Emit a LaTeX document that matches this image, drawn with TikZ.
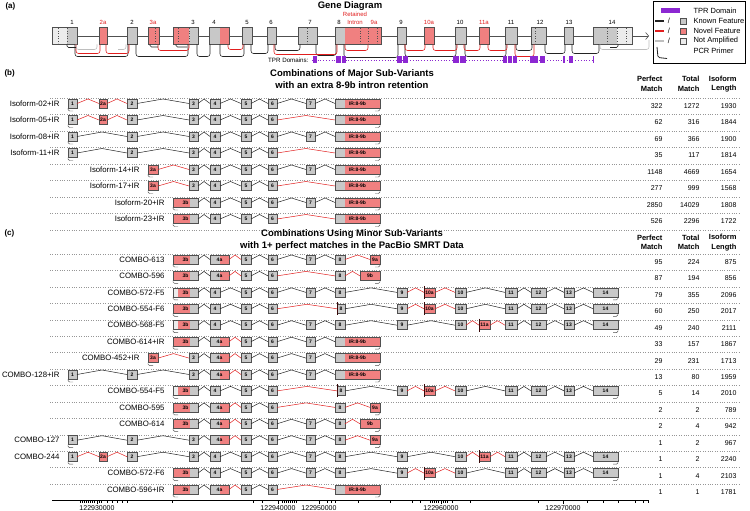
\documentclass[tikz,border=0pt]{standalone}
\usepackage{fontspec}
\setmainfont{Liberation Sans}
\usetikzlibrary{positioning,arrows.meta,calc}
\definecolor{kng}{RGB}{200,200,200}
\definecolor{nvr}{RGB}{240,128,128}
\definecolor{nag}{RGB}{236,236,236}
\definecolor{nal}{RGB}{190,190,190}
\definecolor{edg}{RGB}{80,80,80}
\definecolor{jred}{RGB}{225,30,30}
\definecolor{jblk}{RGB}{35,35,35}
\definecolor{tpr}{RGB}{140,40,210}
\definecolor{sepc}{RGB}{150,150,150}
\newcommand{\fsz}[1]{\fontsize{#1}{#1}\selectfont}

% one isoform row: id, y, label, label right edge, exons x1/x2/style/text/junction colour
\newcommand{\isorow}[5]{%
  \node[rlbl] (#1-lbl) at (#4,#2) {#3};
  \foreach \xa/\xb/\st/\tx/\jc [count=\i, remember=\i as \j (initially 0)] in {#5} {
    \node[\st,minimum width={(\xb-\xa)*1pt}] (#1-\i) at (\xa,#2) {\tx};
    \ifnum\i>1
      \draw[jn,draw=\jc] (#1-\j.east) -- ([yshift=4.5pt]$(#1-\j.east)!.5!(#1-\i.west)$) -- (#1-\i.west);
    \fi
    \xdef\lastex{\i}
  }
  \draw[hk] (#1-1.south west) -- ++(0,3) -- ++(5,0);
  \draw[hk] (#1-\lastex.south east) -- ++(0,3) -- ++(-5,0);
}
% perfect / total / length of one row
\newcommand{\rownums}[5]{%
  \node[rnum] (#1-p) at (666,{#2+2.5}) {#3};
  \node[rnum] (#1-t) at (703,{#2+2.5}) {#4};
  \node[rnum] (#1-l) at (740,{#2+2.5}) {#5};
}

\begin{document}
\begin{tikzpicture}[x=1pt,y=-1pt,font=\fsz{7.5},
  kn/.style={draw=edg,fill=kng,line width=.45pt,inner sep=0pt,outer sep=0pt,minimum height=9pt,anchor=west,font=\fsz{5}\bfseries},
  nv/.style={kn,fill=nvr},
  lpart/.style 2 args={path picture={\fill[#1] (path picture bounding box.south west) rectangle ([xshift=#2]path picture bounding box.north west);}},
  rpart/.style 2 args={path picture={\fill[#1] ([xshift=-#2]path picture bounding box.south east) rectangle (path picture bounding box.north east);}},
  tb/.style={kn,lpart={nvr}{17pt}},
  tbl/.style={kn,path picture={\fill[nvr] (path picture bounding box.south west) rectangle ([xshift=17pt]path picture bounding box.north west);
    \fill[nag] (path picture bounding box.south west) rectangle ([xshift=5pt]path picture bounding box.north west);}},
  fa/.style={kn,rpart={nvr}{9pt}},
  ir/.style={kn,fill=nvr,lpart={kng}{10pt}},
  mk/.style={draw=black!75!jred,line width=1pt},
  nvm/.style={nv,append after command={([yshift=2pt]\tikzlastnode.north west) edge[mk] ([yshift=-2pt]\tikzlastnode.south west)}},
  knm/.style={kn,append after command={([yshift=2pt]\tikzlastnode.north west) edge[mk] ([yshift=-2pt]\tikzlastnode.south west)}},
  jn/.style={line width=.5pt},
  hk/.style={draw=edg,line width=.45pt,rounded corners=1.5pt},
  rlbl/.style={anchor=east,font=\fsz{7.8}},
  rnum/.style={anchor=east,font=\fsz{7}},
  hdr/.style={anchor=east,align=right,font=\fontsize{7.5}{9.5}\selectfont\bfseries},
  sepl/.style={sepc,dotted,line width=.4pt},
  ttl/.style={align=center,font=\fontsize{9.5}{12}\selectfont\bfseries},
  pnl/.style={anchor=west,font=\fsz{8}\bfseries},
  gk/.style={draw=edg,fill=kng,line width=.6pt,inner sep=0pt,outer sep=0pt,minimum height=17pt,anchor=west},
  gn/.style={gk,fill=nvr},
  gdot/.style={edg,dotted,line width=.5pt},
  glb/.style={font=\fsz{6},inner sep=1pt},
  sa/.style={line width=.55pt,rounded corners=2.5pt},
  spl/.style={to path={-- ++(0,#1) -| (\tikztotarget)}},
  tprb/.style={fill=tpr,inner sep=0pt,outer sep=0pt,minimum height=7pt,anchor=west},
  lgtx/.style={anchor=west,font=\fsz{7.5}},
  axl/.style={line width=.5pt,black}]
\useasboundingbox (0,0) rectangle (750,511);
\fill[white] (0,0) rectangle (750,511);

% ---- (a) gene diagram
\node[pnl] (pa) at (2,6) {(a)};
\node[ttl] (tita) at (350,6) {Gene Diagram};
\coordinate (gs) at (52,36);
\coordinate (tip) at (649,36);
\draw[line width=.6pt,edg,-{Straight Barb[length=3pt,width=7pt]}] (gs) -- (tip);
\node[gk,minimum width=25pt,lpart={nag}{15pt}] (g1) at (52,36) {};
\node[gn,minimum width=8pt] (g2a) at (99,36) {};
\node[gk,minimum width=10pt] (g2) at (127,36) {};
\node[gn,minimum width=11pt] (g3a) at (148,36) {};
\node[gk,minimum width=25pt,lpart={nvr}{16pt}] (g3) at (173,36) {};
\node[gk,minimum width=20pt,rpart={nvr}{9pt}] (g4) at (209,36) {};
\node[gk,minimum width=10pt] (g5) at (242,36) {};
\node[gk,minimum width=9pt] (g6) at (267,36) {};
\node[gk,minimum width=19pt] (g7) at (298,36) {};
\node[gn,minimum width=46pt,lpart={kng}{10pt}] (g8) at (335,36) {};
\node[gk,minimum width=9pt] (g9) at (397,36) {};
\node[gn,minimum width=10pt] (g10a) at (424,36) {};
\node[gk,minimum width=11pt] (g10) at (455,36) {};
\node[gn,minimum width=10pt] (g11a) at (479,36) {};
\node[gk,minimum width=12pt] (g11) at (505,36) {};
\node[gk,minimum width=15pt] (g12) at (531,36) {};
\node[gk,minimum width=9pt] (g13) at (564,36) {};
\node[gk,minimum width=39pt,rpart={nag}{15pt}] (g14) at (593,36) {};
\foreach \x in {58,67,155,178,189,307,360,368,377,535,607,617,626}
  \draw[gdot] (\x,28.5) -- (\x,43.5);
\foreach \x/\t/\c [count=\k] in {72/1/black,103/2a/jred,132/2/black,153/3a/jred,193/3/black,214/4/black,
  247/5/black,271/6/black,310/7/black,339/8/black,374/9a/jred,401/9/black,429/10a/jred,460/10/black,
  484/11a/jred,511/11/black,540/12/black,569/13/black,612/14/black}
  \node[glb,text=\c] (gl\k) at (\x,22) {\t};
\node[glb,text=jred,align=center,font=\fontsize{6}{8}\selectfont] (glri) at (355,18) {Retained\\Intron};
% splice junctions
\draw[sa,jblk] ([xshift=-2pt]g1.south east) to[spl=12] ([xshift=1pt]g2.south west);
\draw[sa,jblk] ([xshift=-1pt]g2.south east) to[spl=12] ([xshift=-10pt]g3.south east);
\draw[sa,jblk] ([xshift=-1pt]g3.south east) to[spl=12] ([xshift=1pt]g4.south west);
\draw[sa,jblk] ([xshift=-9pt]g4.south east) to[spl=12] ([xshift=2pt]g5.south west);
\draw[sa,jblk] ([xshift=-1pt]g5.south east) to[spl=9] ([xshift=1pt]g6.south west);
\draw[sa,jblk] ([xshift=-1pt]g6.south east) to[spl=6] ([xshift=2pt]g7.south west);
\draw[sa,jblk] ([xshift=-1pt]g7.south east) to[spl=11] ([xshift=1pt]g8.south west);
\draw[sa,jblk] ([xshift=9pt]g8.south west) to[spl=13] ([xshift=1pt]g9.south west);
\draw[sa,jblk] ([xshift=-1pt]g9.south east) to[spl=12] ([xshift=1pt]g10.south west);
\draw[sa,jblk] ([xshift=-1pt]g10.south east) to[spl=12] ([xshift=1pt]g11.south west);
\draw[sa,jblk] ([xshift=-1pt]g11.south east) to[spl=6] ([xshift=1pt]g12.south west);
\draw[sa,jblk] ([xshift=-1pt]g12.south east) to[spl=9] ([xshift=1pt]g13.south west);
\draw[sa,jblk] ([xshift=-1pt]g13.south east) to[spl=9] ([xshift=6pt]g14.south west);
\draw[sa,jred] ([xshift=-1pt]g1.south east) to[spl=9] ([xshift=1pt]g2a.south west);
\draw[sa,jred] ([xshift=-1pt]g2a.south east) to[spl=9] ([xshift=2pt]g2.south west);
\draw[sa,jred] ([xshift=-1pt]g3a.south east) to[spl=6] ([xshift=-9pt]g3.south east);
\draw[sa,jred] ([xshift=-1pt]g4.south east) to[spl=5] ([xshift=1pt]g5.south west);
\draw[sa,jred] ([xshift=-2pt]g6.south east) to[spl=10] ([xshift=2pt]g8.south west);
\draw[sa,jred] ([xshift=10pt]g8.south west) to[spl=6] ([xshift=33pt]g8.south west);
\draw[sa,jred] ([xshift=-1pt]g9.south east) to[spl=6] ([xshift=1pt]g10a.south west);
\draw[sa,jred] ([xshift=-1pt]g10a.south east) to[spl=6] ([xshift=2pt]g10.south west);
\draw[sa,jred] ([xshift=-2pt]g10.south east) to[spl=6] ([xshift=1pt]g11a.south west);
\draw[sa,jred] ([xshift=-1pt]g11a.south east) to[spl=6] ([xshift=2pt]g11.south west);
\draw[sa,jred] ([xshift=-2pt]g11.south east) to[spl=12] ([xshift=3pt]g12.south west);
\draw[sa,nal] ([xshift=-1pt]g1.south east) to[spl=5] ([xshift=-2pt]g2a.south west);
\draw[sa,nal] ([xshift=-1pt]g2.south west) -- ++(0,5) -- ++(-8,0);
\draw[sa,nal] ([xshift=7pt]g14.south west) to[spl=5] ([yshift=-4pt]tip);
% primers
\draw[hk,jblk,line width=.6pt] ([xshift=-10pt]g1.south east) -- ++(0,3) -- ++(9,0);
\draw[hk,jblk,line width=.6pt] ([xshift=2pt]g3a.south west) -- ++(0,2.5) -- ++(8,0);
\draw[hk,jblk,line width=.6pt] ([xshift=3pt]g3.south west) -- ++(0,2.5) -- ++(11,0);
\draw[hk,jblk,line width=.6pt] ([xshift=-14pt]g14.south east) -- ++(0,3) -- ++(-8,0);
% TPR domains
\node[anchor=east,font=\fsz{6.2}] (tprl) at (312,60) {TPR Domains:};
\coordinate (tpre) at (593,60);
\draw[tpr,dotted,line width=.8pt] (tprl.east) -- (tpre);
\draw[tpr,line width=.8pt] ([yshift=3.5pt]tpre) -- ([yshift=-3.5pt]tpre);
\foreach \a/\b [count=\k] in {313/317,336/341,342/346,397/402,403/408,453/459,460/466,503/507,
  508/512,513/517,530/538,540/545,563/565,569/573}
  \node[tprb,minimum width={(\b-\a)*1pt}] (tp\k) at (\a,60) {};
% legend
\node[draw=black,line width=.6pt,minimum width=92pt,minimum height=62pt,inner sep=0pt,anchor=north west] (leg) at (653,1) {};
\node[tprb,minimum width=19pt,minimum height=5pt] (lgp) at (661,11) {};
\node[lgtx] (lgptx) at (690,11) {TPR Domain};
\foreach \y/\lc/\fc/\tx [count=\k] in {21/jblk/kng/Known Feature,31/jred/nvr/Novel Feature,41/nal/nag/Not Amplified} {
  \coordinate (lga\k) at (655,\y);
  \coordinate (lgb\k) at (664,\y);
  \draw[\lc,line width=1.1pt] (lga\k) -- (lgb\k);
  \node[inner sep=0pt,font=\fsz{7.5}] (lgs\k) at (669,\y) {/};
  \node[draw=edg,fill=\fc,minimum width=6pt,minimum height=6pt,inner sep=0pt] (lgx\k) at (683,\y) {};
  \node[lgtx] (lgt\k) at (690,\y) {\tx};
}
\draw[jblk,line width=.8pt,rounded corners=1.5pt] (657,47) -- (658,57.5) -- (667,58.5);
\node[lgtx] (lgpcr) at (690,51) {PCR Primer};

% ---- (b) major sub-variants
\node[pnl] (pb) at (1,73) {(b)};
\node[ttl] (titb) at (352,79) {Combinations of Major Sub-Variants\\with an extra 8-9b intron retention};
\node[hdr] (hb1) at (666,84) {Perfect\\Match};
\node[hdr] (hb2) at (703,84) {Total\\Match};
\node[hdr] (hb3) at (740,84) {Isoform\\Length};
\foreach \k in {0,...,8}
  \draw[sepl] (50,{98+16.5*\k}) -- (741,{98+16.5*\k});
\isorow{b1}{103.5}{Isoform-02+IR}{63}{68/77/kn/1/none,99/107/nv/2a/jred,127/137/kn/2/jred,189/198/kn/3/jblk,210/220/kn/4/jblk,241/251/kn/5/jblk,268/277/kn/6/jblk,306/315/kn/7/jblk,335/380/ir/IR:8-9b/jblk}
\isorow{b2}{120}{Isoform-05+IR}{63}{68/77/kn/1/none,99/107/nv/2a/jred,127/137/kn/2/jred,189/198/kn/3/jblk,210/220/kn/4/jblk,241/251/kn/5/jblk,268/277/kn/6/jblk,335/380/ir/IR:8-9b/jred}
\isorow{b3}{136.5}{Isoform-08+IR}{63}{68/77/kn/1/none,127/137/kn/2/jblk,189/198/kn/3/jblk,210/220/kn/4/jblk,241/251/kn/5/jblk,268/277/kn/6/jblk,306/315/kn/7/jblk,335/380/ir/IR:8-9b/jblk}
\isorow{b4}{153}{Isoform-11+IR}{63}{68/77/kn/1/none,127/137/kn/2/jblk,189/198/kn/3/jblk,210/220/kn/4/jblk,241/251/kn/5/jblk,268/277/kn/6/jblk,335/380/ir/IR:8-9b/jred}
\isorow{b5}{169.5}{Isoform-14+IR}{143}{148/158/nv/3a/none,189/198/kn/3/jred,210/220/kn/4/jblk,241/251/kn/5/jblk,268/277/kn/6/jblk,306/315/kn/7/jblk,335/380/ir/IR:8-9b/jblk}
\isorow{b6}{186}{Isoform-17+IR}{143}{148/158/nv/3a/none,189/198/kn/3/jred,210/220/kn/4/jblk,241/251/kn/5/jblk,268/277/kn/6/jblk,335/380/ir/IR:8-9b/jred}
\isorow{b7}{202.5}{Isoform-20+IR}{168}{173/198/tb/3b/none,210/220/kn/4/jblk,241/251/kn/5/jblk,268/277/kn/6/jblk,306/315/kn/7/jblk,335/380/ir/IR:8-9b/jblk}
\isorow{b8}{219}{Isoform-23+IR}{168}{173/198/tb/3b/none,210/220/kn/4/jblk,241/251/kn/5/jblk,268/277/kn/6/jblk,335/380/ir/IR:8-9b/jred}
\rownums{b1}{103.5}{322}{1272}{1930}
\rownums{b2}{120}{62}{316}{1844}
\rownums{b3}{136.5}{69}{366}{1900}
\rownums{b4}{153}{35}{117}{1814}
\rownums{b5}{169.5}{1148}{4669}{1654}
\rownums{b6}{186}{277}{999}{1568}
\rownums{b7}{202.5}{2850}{14029}{1808}
\rownums{b8}{219}{526}{2296}{1722}

% ---- (c) minor sub-variants
\node[pnl] (pc) at (1,233) {(c)};
\node[ttl] (titc) at (352,240) {Combinations Using Minor Sub-Variants\\with 1+ perfect matches in the PacBio SMRT Data};
\node[hdr] (hc1) at (666,242.5) {Perfect\\Match};
\node[hdr] (hc2) at (703,242.5) {Total\\Match};
\node[hdr] (hc3) at (740,242.5) {Isoform\\Length};
\foreach \k in {0,...,14}
  \draw[sepl] (50,{254+16.43*\k}) -- (741,{254+16.43*\k});
\isorow{c1}{259.5}{COMBO-613}{168}{173/198/tb/3b/none,210/229/fa/4a/jblk,241/251/kn/5/jred,268/277/kn/6/jblk,306/315/kn/7/jblk,335/345/kn/8/jblk,370/380/nv/9a/jred}
\isorow{c2}{275.9}{COMBO-596}{168}{173/198/tb/3b/none,210/229/fa/4a/jblk,241/251/kn/5/jred,268/277/kn/6/jblk,335/345/kn/8/jred,360/380/nv/9b/jred}
\isorow{c3}{292.4}{COMBO-572-F5}{168}{173/198/tbl/3b/none,210/220/kn/4/jblk,241/251/kn/5/jblk,268/277/kn/6/jblk,306/315/kn/7/jblk,335/345/kn/8/jblk,397/407/kn/9/jblk,424/435/nvm/10a/jred,455/466/kn/10/jred,505/517/kn/11/jblk,531/546/kn/12/jblk,564/574/kn/13/jblk,593/618/kn/14/jblk}
\isorow{c4}{308.8}{COMBO-554-F6}{168}{173/198/tb/3b/none,210/220/kn/4/jblk,241/251/kn/5/jblk,268/277/kn/6/jblk,337/345/knm/8/jred,397/407/kn/9/jblk,424/435/nvm/10a/jred,455/466/kn/10/jred,505/517/kn/11/jblk,531/546/kn/12/jblk,564/574/kn/13/jblk,593/618/kn/14/jblk}
\isorow{c5}{325.2}{COMBO-568-F5}{168}{173/198/tbl/3b/none,210/220/kn/4/jblk,241/251/kn/5/jblk,268/277/kn/6/jblk,306/315/kn/7/jblk,335/345/kn/8/jblk,397/407/kn/9/jblk,455/466/kn/10/jblk,479/490/nvm/11a/jred,505/517/kn/11/jred,531/546/kn/12/jblk,564/574/kn/13/jblk,593/618/kn/14/jblk}
\isorow{c6}{341.7}{COMBO-614+IR}{168}{173/198/tb/3b/none,210/229/fa/4a/jblk,241/251/kn/5/jred,268/277/kn/6/jblk,306/315/kn/7/jblk,335/380/ir/IR:8-9b/jblk}
\isorow{c7}{358.1}{COMBO-452+IR}{143}{148/158/nv/3a/none,189/198/kn/3/jred,210/229/fa/4a/jblk,241/251/kn/5/jred,268/277/kn/6/jblk,306/315/kn/7/jblk,335/380/ir/IR:8-9b/jblk}
\isorow{c8}{374.5}{COMBO-128+IR}{63}{68/77/kn/1/none,127/137/kn/2/jblk,189/198/kn/3/jblk,210/229/fa/4a/jblk,241/251/kn/5/jred,268/277/kn/6/jblk,306/315/kn/7/jblk,335/380/ir/IR:8-9b/jblk}
\isorow{c9}{390.9}{COMBO-554-F5}{168}{173/198/tbl/3b/none,210/220/kn/4/jblk,241/251/kn/5/jblk,268/277/kn/6/jblk,337/345/knm/8/jred,397/407/kn/9/jblk,424/435/nvm/10a/jred,455/466/kn/10/jred,505/517/kn/11/jblk,531/546/kn/12/jblk,564/574/kn/13/jblk,593/618/kn/14/jblk}
\isorow{c10}{407.4}{COMBO-595}{168}{173/198/tb/3b/none,210/229/fa/4a/jblk,241/251/kn/5/jred,268/277/kn/6/jblk,335/345/kn/8/jred,370/380/nv/9a/jred}
\isorow{c11}{423.8}{COMBO-614}{168}{173/198/tb/3b/none,210/229/fa/4a/jblk,241/251/kn/5/jred,268/277/kn/6/jblk,306/315/kn/7/jblk,335/345/kn/8/jblk,360/380/nv/9b/jred}
\isorow{c12}{440.2}{COMBO-127}{63}{68/77/kn/1/none,127/137/kn/2/jblk,189/198/kn/3/jblk,210/229/fa/4a/jblk,241/251/kn/5/jred,268/277/kn/6/jblk,306/315/kn/7/jblk,335/345/kn/8/jblk,370/380/nv/9a/jred}
\isorow{c13}{456.7}{COMBO-244}{63}{68/77/kn/1/none,99/107/nv/2a/jred,127/137/kn/2/jred,189/198/kn/3/jblk,210/220/kn/4/jblk,241/251/kn/5/jblk,268/277/kn/6/jblk,306/315/kn/7/jblk,335/345/kn/8/jblk,397/407/kn/9/jblk,455/466/kn/10/jblk,479/490/nvm/11a/jred,505/517/kn/11/jred,531/546/kn/12/jblk,564/574/kn/13/jblk,593/618/kn/14/jblk}
\isorow{c14}{473.1}{COMBO-572-F6}{168}{173/198/tb/3b/none,210/220/kn/4/jblk,241/251/kn/5/jblk,268/277/kn/6/jblk,306/315/kn/7/jblk,335/345/kn/8/jblk,397/407/kn/9/jblk,424/435/nvm/10a/jred,455/466/kn/10/jred,505/517/kn/11/jblk,531/546/kn/12/jblk,564/574/kn/13/jblk,593/618/kn/14/jblk}
\isorow{c15}{489.5}{COMBO-596+IR}{168}{173/198/tb/3b/none,210/229/fa/4a/jblk,241/251/kn/5/jred,268/277/kn/6/jblk,335/380/ir/IR:8-9b/jred}
\rownums{c1}{259.5}{95}{224}{875}
\rownums{c2}{275.9}{87}{194}{856}
\rownums{c3}{292.4}{79}{355}{2096}
\rownums{c4}{308.8}{60}{250}{2017}
\rownums{c5}{325.2}{49}{240}{2111}
\rownums{c6}{341.7}{33}{157}{1867}
\rownums{c7}{358.1}{29}{231}{1713}
\rownums{c8}{374.5}{13}{80}{1959}
\rownums{c9}{390.9}{5}{14}{2010}
\rownums{c10}{407.4}{2}{2}{789}
\rownums{c11}{423.8}{2}{4}{942}
\rownums{c12}{440.2}{1}{2}{967}
\rownums{c13}{456.7}{1}{2}{2240}
\rownums{c14}{473.1}{1}{4}{2103}
\rownums{c15}{489.5}{1}{1}{1781}

% ---- genomic axis
\coordinate (ax0) at (52,500);
\coordinate (ax1) at (648,500);
\draw[axl] (ax0) -- (ax1);
\foreach \t in {80,82,84,86,88,90,92,94,99,101,107,112,117,122,127,172,253,262,282,284,286,288,290,292,294,296,
  327,331,335,358,390,412,420,430,432,434,436,438,443,445,447,452,470,538,587,603,618,635,643,648}
  \draw[axl,line width=.4pt] (\t,500) -- (\t,502.5);
\foreach \t/\v [count=\k] in {97/122930000,278/122940000,319/122950000,441/122960000,563/122970000} {
  \draw[axl] (\t,500) -- (\t,503.5);
  \node[font=\fsz{7},inner sep=0pt] (axl\k) at (\t,508) {\v};
}
\end{tikzpicture}
\end{document}
